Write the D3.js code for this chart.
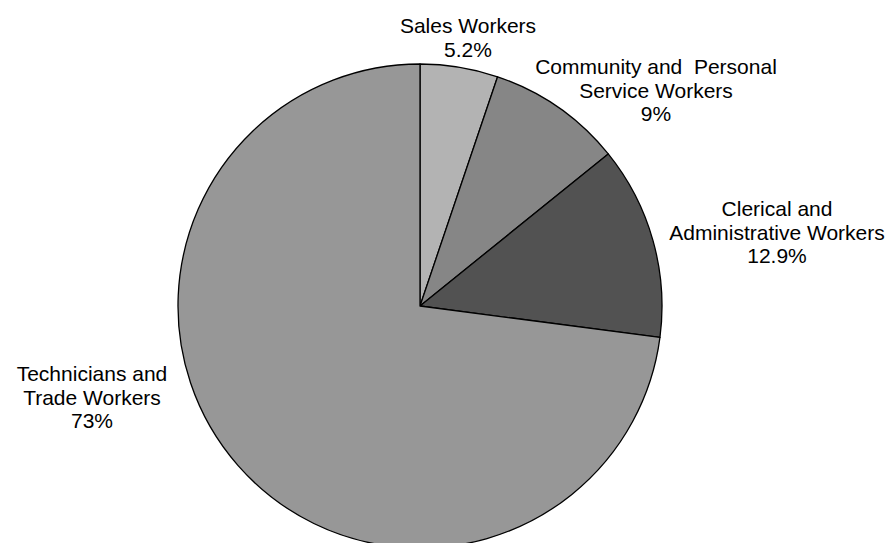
<!DOCTYPE html>
<html>
<head>
<meta charset="utf-8">
<script src="https://cdn.jsdelivr.net/npm/d3@7"></script>
<style>
  html, body { margin: 0; padding: 0; background: #fff; }
  svg { display: block; }
  text { font-family: "Liberation Sans", Arial, sans-serif; font-size: 21px; fill: #000; }
</style>
</head>
<body>
<svg id="chart" width="890" height="543"></svg>
<script>
// Occupation shares, clockwise from 12 o'clock
const categories = [
  ["Sales Workers"],
  ["Community and  Personal", "Service Workers"],
  ["Clerical and", "Administrative Workers"],
  ["Technicians and", "Trade Workers"]
];
const shares = [5.2, 9, 12.9, 73];
const shareLabels = ["5.2%", "9%", "12.9%", "73%"];
const fills = ["#b3b3b3", "#868686", "#525252", "#979797"];

// Label anchor points (centre x, first baseline y)
const labelPos = [[468, 33], [656, 74], [777, 216], [92, 381]];

const svg = d3.select("#chart");
const cx = 420, cy = 306, radius = 242;

const pie = d3.pie().sort(null).value(d => d);
const arc = d3.arc().innerRadius(0).outerRadius(radius);

const g = svg.append("g").attr("transform", `translate(${cx},${cy})`);

g.selectAll("path")
  .data(pie(shares))
  .join("path")
  .attr("d", arc)
  .attr("fill", (d, i) => fills[i])
  .attr("stroke", "#000")
  .attr("stroke-width", 1.3)
  .attr("stroke-linejoin", "round");

const lineH = 23.5;
const labels = svg.selectAll("text.lbl")
  .data(categories.map((lines, i) => ({ lines: lines.concat(shareLabels[i]), pos: labelPos[i] })))
  .join("text")
  .attr("class", "lbl")
  .attr("text-anchor", "middle")
  .attr("xml:space", "preserve")
  .style("white-space", "pre");

labels.selectAll("tspan")
  .data(d => d.lines.map((t, j) => ({ t, j, pos: d.pos })))
  .join("tspan")
  .attr("x", d => d.pos[0])
  .attr("y", d => d.pos[1] + d.j * lineH)
  .text(d => d.t);
</script>
</body>
</html>
